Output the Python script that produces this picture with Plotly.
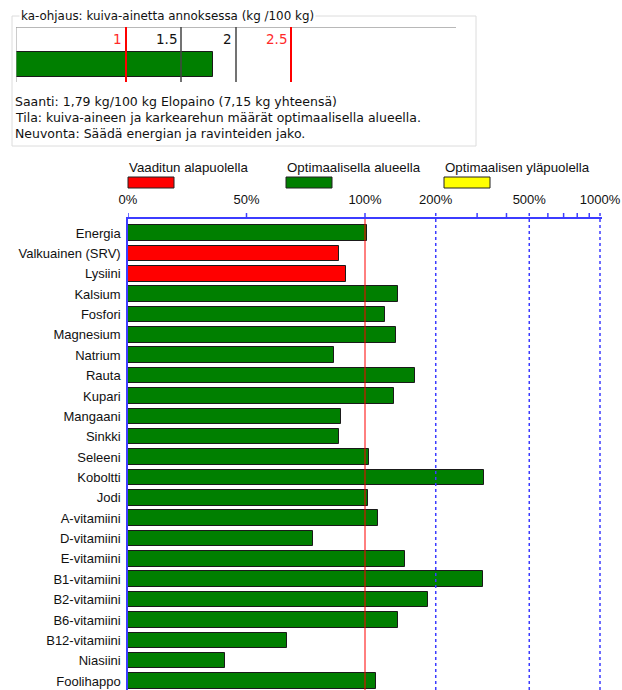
import math
import plotly.graph_objects as go

# ---------------- data ----------------
categories = ["Energia", "Valkuainen (SRV)", "Lysiini", "Kalsium", "Fosfori", "Magnesium",
              "Natrium", "Rauta", "Kupari", "Mangaani", "Sinkki", "Seleeni", "Koboltti",
              "Jodi", "A-vitamiini", "D-vitamiini", "E-vitamiini", "B1-vitamiini",
              "B2-vitamiini", "B6-vitamiini", "B12-vitamiini", "Niasiini", "Foolihappo"]
percent = [102, 89, 92, 138, 122, 135, 87, 163, 133, 90, 89, 104, 321, 103, 114, 78,
           148, 318, 186, 138, 67, 41, 111]
status = ["ok", "below", "below", "ok", "ok", "ok", "ok", "ok", "ok", "ok", "ok", "ok",
          "ok", "ok", "ok", "ok", "ok", "ok", "ok", "ok", "ok", "ok", "ok"]

legend_labels = ["Vaaditun alapuolella", "Optimaalisella alueella", "Optimaalisen yläpuolella"]
legend_keys = ["below", "ok", "above"]

tick_pcts = [0, 50, 100, 200, 500, 1000]
tick_labels = ["0%", "50%", "100%", "200%", "500%", "1000%"]
minor_pcts = [300, 400, 600, 700, 800, 900]
dashed_pcts = [200, 500, 1000]

dm_intake = 1.79
dm_marks = [1, 1.5, 2, 2.5]
dm_mark_labels = ["1", "1.5", "2", "2.5"]
dm_mark_kind = ["limit", "mid", "mid", "limit"]
dm_title = "ka-ohjaus: kuiva-ainetta annoksessa (kg /100 kg)"
info_lines = ["Saanti: 1,79 kg/100 kg Elopaino (7,15 kg yhteensä)",
              "Tila: kuiva-aineen ja karkearehun määrät optimaalisella alueella.",
              "Neuvonta: Säädä energian ja ravinteiden jako."]

# ---------------- styles ----------------
W, H = 622, 690
COLORS = {"below": "#ff0000", "ok": "#007f00", "above": "#ffff00"}
BLUE = "#3c3cff"
TXT = "#111111"
F_MAIN = "Liberation Sans"
F_TOP = "DejaVu Sans"


def px(x):
    return x / W


def py(y):
    return 1 - y / H


K = 235 / 237


def f(v):
    # linear scale up to 100 %, logarithmic above
    return v / 100 if v <= 100 else 1 + math.log10(v / 100) * K


fig = go.Figure()

fig.add_trace(go.Bar(
    x=[f(v) for v in percent], y=categories, orientation="h",
    marker=dict(color=[COLORS[s] for s in status], line=dict(color="#1a1a1a", width=1)),
    width=0.76, xaxis="x", yaxis="y", hoverinfo="skip", showlegend=False))

fig.add_trace(go.Bar(
    x=[dm_intake], y=[0.318], orientation="h", base=0,
    marker=dict(color=COLORS["ok"], line=dict(color="#1a1a1a", width=1)),
    width=0.4545, xaxis="x2", yaxis="y2", hoverinfo="skip", showlegend=False))

shapes = []
annotations = []

# group box
shapes.append(dict(type="rect", xref="paper", yref="paper", x0=px(12), x1=px(476),
                   y0=py(146), y1=py(16), line=dict(color="#dcdcdc", width=1), layer="below"))
annotations.append(dict(xref="paper", yref="paper", x=px(19), y=py(16), text=dm_title,
                        showarrow=False, xanchor="left", yanchor="middle", bgcolor="white",
                        font=dict(family=F_TOP, size=11.9, color=TXT), borderpad=1))

# gauge
shapes.append(dict(type="line", xref="x2", yref="y2", x0=0, x1=4, y0=1, y1=1,
                   line=dict(color="#b8b8b8", width=2)))
shapes.append(dict(type="line", xref="x2", yref="y2", x0=0, x1=0, y0=0, y1=1,
                   line=dict(color="#9a9a9a", width=1)))
for v, lab, kind in zip(dm_marks, dm_mark_labels, dm_mark_kind):
    col = "#ff0000" if kind == "limit" else "#444444"
    shapes.append(dict(type="line", xref="x2", yref="y2", x0=v, x1=v, y0=0, y1=1,
                       line=dict(color=col, width=2 if kind == "limit" else 1.5)))
    annotations.append(dict(xref="x2", yref="y2", x=v, y=0.79, text=lab, showarrow=False,
                            xanchor="right", yanchor="middle", xshift=-2,
                            font=dict(family=F_TOP, size=13.5,
                                      color="#ff2a2a" if kind == "limit" else TXT)))

for i, line in enumerate(info_lines):
    annotations.append(dict(xref="paper", yref="paper", x=px(13), y=py(101 + 16 * i),
                            text=line, showarrow=False, xanchor="left", yanchor="middle",
                            font=dict(family=F_TOP, size=12.5, color=TXT)))

# legend
leg_x = [128, 286, 444]
for lx, lab, key in zip(leg_x, legend_labels, legend_keys):
    annotations.append(dict(xref="paper", yref="paper", x=px(lx - 1), y=py(167), text=lab,
                            showarrow=False, xanchor="left", yanchor="middle",
                            font=dict(family=F_MAIN, size=13.3, color=TXT)))
    shapes.append(dict(type="rect", xref="paper", yref="paper", x0=px(lx), x1=px(lx + 46),
                       y0=py(188), y1=py(177), fillcolor=COLORS[key],
                       line=dict(color="#222222", width=1)))

# main chart reference lines and ticks
y_axis_top = py(219)
for v in dashed_pcts:
    shapes.append(dict(type="line", xref="x", yref="paper", x0=f(v), x1=f(v), y0=0,
                       y1=py(212), line=dict(color=BLUE, width=1.5, dash="3px,3px"),
                       layer="above"))
for v in [0, 50, 100] + minor_pcts:
    shapes.append(dict(type="line", xref="x", yref="paper", x0=f(v), x1=f(v),
                       y0=y_axis_top, y1=py(213), line=dict(color=BLUE, width=1.5)))
shapes.append(dict(type="line", xref="x", yref="paper", x0=f(100), x1=f(100), y0=0,
                   y1=y_axis_top, line=dict(color="#ff0000", width=1), layer="above"))

fig.update_layout(
    width=W, height=H, autosize=False, margin=dict(l=0, r=0, t=0, b=0, autoexpand=False),
    paper_bgcolor="white", plot_bgcolor="white",
    bargap=0,
    xaxis=dict(domain=[px(128), px(602)], range=[0, 2.0], side="top", anchor="y",
               automargin=False,
               showline=True, linecolor=BLUE, linewidth=1.5, showgrid=False, zeroline=False,
               tickmode="array", tickvals=[f(v) for v in tick_pcts], ticktext=tick_labels,
               ticks="outside", ticklen=8, tickcolor="rgba(0,0,0,0)",
               tickfont=dict(family=F_MAIN, size=13, color=TXT), fixedrange=True),
    yaxis=dict(domain=[0, y_axis_top], range=[22.44, -0.69], type="category", anchor="x",
               automargin=False, ticklabelstandoff=3,
               showline=True, linecolor=BLUE, linewidth=1.5, showgrid=False, zeroline=False,
               ticks="", tickfont=dict(family=F_MAIN, size=13, color=TXT), fixedrange=True),
    xaxis2=dict(domain=[px(16), px(456)], range=[0, 4], anchor="y2", visible=False,
                automargin=False),
    yaxis2=dict(domain=[py(82), py(27)], range=[0, 1], anchor="x2", visible=False,
                automargin=False),
    shapes=shapes, annotations=annotations, showlegend=False,
)

page_fix = ("document.documentElement.style.margin='0';"
            "document.documentElement.style.overflow='hidden';"
            "document.body.style.margin='0';document.body.style.padding='0';"
            "document.body.style.overflow='hidden';")

fig.write_html("out.html", config={"responsive": False, "displayModeBar": False},
               post_script=page_fix)
